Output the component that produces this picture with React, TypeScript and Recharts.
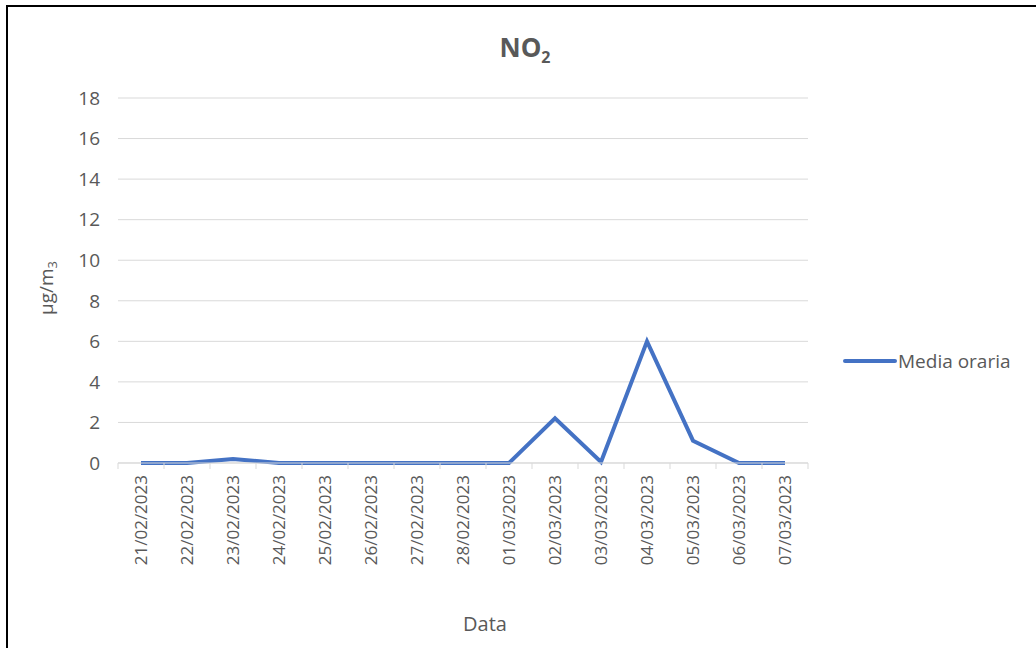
import { LineChart, Line, XAxis, YAxis, CartesianGrid } from 'recharts';

const dates = [
  '21/02/2023', '22/02/2023', '23/02/2023', '24/02/2023', '25/02/2023',
  '26/02/2023', '27/02/2023', '28/02/2023', '01/03/2023', '02/03/2023',
  '03/03/2023', '04/03/2023', '05/03/2023', '06/03/2023', '07/03/2023',
];
const hourlyMean = [0, 0, 0.2, 0, 0, 0, 0, 0, 0, 2.2, 0.05, 6.0, 1.1, 0, 0];
const yTicks = [0, 2, 4, 6, 8, 10, 12, 14, 16, 18];

const font = '"Open Sans", "Noto Sans", sans-serif';
const textColor = '#595959';
const lineColor = '#4472C4';
const half = 23;

const data = dates.map((d, i) => ({ date: d, value: hourlyMean[i] }));

function DateTick(props: any) {
  const { x, y, payload, index } = props;
  const last = index === dates.length - 1;
  return (
    <g>
      <line x1={x - half} x2={x - half} y1={y - 8} y2={y - 2} stroke='#d9d9d9' />
      {last && <line x1={x + half} x2={x + half} y1={y - 8} y2={y - 2} stroke='#d9d9d9' />}
      <g transform={`translate(${x},${y})`}>
        <text
          transform='rotate(-90)'
          x={-4}
          y={0}
          dy='0.35em'
          textAnchor='end'
          fill={textColor}
          fontSize={17}
          fontFamily={font}
        >
          {payload.value}
        </text>
      </g>
    </g>
  );
}

export default function App() {
  return (
    <div style={{ position: 'fixed', left: 0, top: 0, width: 1036, height: 648, background: '#fff', overflow: 'hidden' }}>
      <div style={{ position: 'absolute', left: 6, top: 5, width: 1100, height: 700, border: '2px solid #000' }} />
      <div
        style={{
          position: 'absolute', left: 0, width: 1050, top: 30, textAlign: 'center',
          fontFamily: font, fontSize: 26, fontWeight: 'bold', color: textColor, lineHeight: '34px',
        }}
      >
        NO<sub style={{ fontSize: 16 }}>2</sub>
      </div>
      <div
        style={{
          position: 'absolute', left: 0, width: 970, top: 610, textAlign: 'center',
          fontFamily: font, fontSize: 20, color: textColor,
        }}
      >
        Data
      </div>
      <div
        style={{
          position: 'absolute', left: 47, top: 288, transform: 'translate(-50%, -50%) rotate(-90deg)',
          fontFamily: font, fontSize: 19, color: textColor, whiteSpace: 'nowrap',
        }}
      >
        µg/m<sub style={{ fontSize: 13 }}>3</sub>
      </div>
      <div style={{ position: 'absolute', left: 0, top: 0 }}>
        <LineChart width={1036} height={648} data={data} margin={{ top: 98, right: 228, bottom: 65, left: 58 }}>
          <CartesianGrid horizontal vertical={false} stroke='#d9d9d9' />
          <XAxis
            dataKey='date'
            interval={0}
            padding={{ left: half, right: half }}
            height={120}
            tickLine={false}
            axisLine={{ stroke: '#d9d9d9' }}
            tick={<DateTick />}
          />
          <YAxis
            width={60}
            domain={[0, 18]}
            ticks={yTicks}
            tickLine={false}
            axisLine={false}
            tickMargin={12}
            tick={{ fill: textColor, fontSize: 19, fontFamily: font }}
          />
          <Line
            type='linear'
            dataKey='value'
            stroke={lineColor}
            strokeWidth={4}
            dot={false}
            isAnimationActive={false}
          />
        </LineChart>
      </div>
      <div
        style={{
          position: 'absolute', left: 843, top: 348, display: 'flex', alignItems: 'center',
          fontFamily: font, fontSize: 19, color: textColor, whiteSpace: 'nowrap',
        }}
      >
        <svg width={54} height={10}>
          <line x1={2} x2={52} y1={5} y2={5} stroke={lineColor} strokeWidth={4} strokeLinecap='round' />
        </svg>
        <span style={{ marginLeft: 1 }}>Media oraria</span>
      </div>
    </div>
  );
}
